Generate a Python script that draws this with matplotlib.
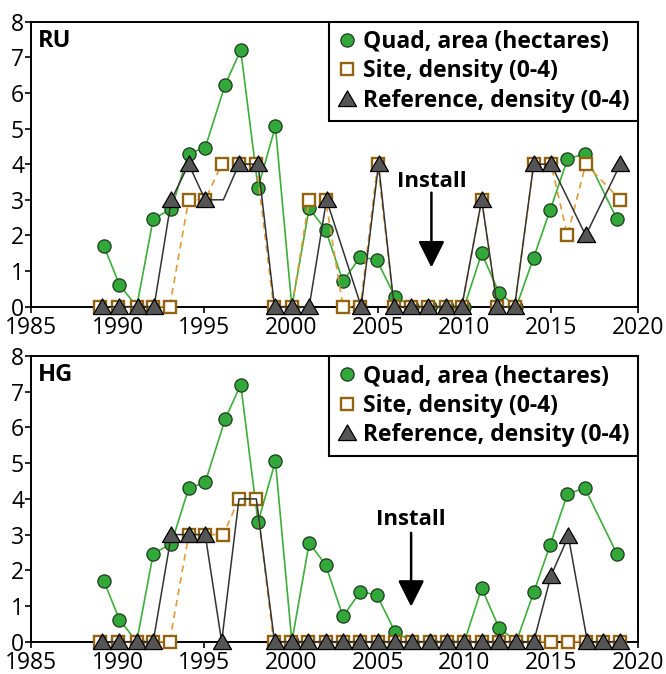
import matplotlib
matplotlib.use("Agg")
import matplotlib.pyplot as plt
import numpy as np

# ---------------- data ----------------
quad_years = [1989.2, 1990.1, 1991.1, 1992.05, 1993.1, 1994.1, 1995.05, 1996.2, 1997.1,
              1998.1, 1999.1, 2000.05, 2001.05, 2002.0, 2003.0, 2004.0, 2004.95, 2006.0,
              2007.0, 2008.0, 2009.0, 2010.0, 2011.0, 2012.0, 2013.0, 2014.0, 2014.95,
              2015.95, 2016.95, 2018.8]
quad_area = [1.71, 0.62, 0.0, 2.46, 2.75, 4.30, 4.46, 6.23, 7.20, 3.34, 5.06, 0.0, 2.77,
             2.15, 0.71, 1.40, 1.31, 0.28, 0.0, 0.0, 0.0, 0.0, 1.50, 0.39, 0.0, 1.38,
             2.71, 4.14, 4.30, 2.46]

# RU
ru_site_years = [1989.0, 1990.0, 1991.1, 1992.05, 1993.0, 1994.1, 1995.05, 1996.0, 1997.0,
                 1998.0, 1999.0, 2000.05, 2001.05, 2002.0, 2003.0, 2004.0, 2005.0, 2005.95,
                 2006.9, 2007.9, 2008.95, 2009.85, 2011.0, 2011.9, 2012.9, 2014.0, 2015.0,
                 2015.95, 2017.0, 2019.0]
ru_site = [0, 0, 0, 0, 0, 3, 3, 4, 4, 4, 0, 0, 3, 3, 0, 0, 4, 0, 0, 0, 0, 0, 3, 0, 0,
           4, 4, 2, 4, 3]
ru_ref_years = [1989.1, 1990.05, 1991.15, 1992.1, 1993.1, 1994.1, 1995.05, 1996.1, 1997.0,
                1998.1, 1999.05, 2000.05, 2001.05, 2002.05, 2004.05, 2005.05, 2005.95,
                2006.9, 2007.9, 2008.95, 2009.85, 2011.0, 2011.9, 2012.9, 2014.0, 2015.0,
                2017.0, 2019.0]
ru_ref = [0, 0, 0, 0, 3, 4, 3, 3, 4, 4, 0, 0, 0, 3, 0, 4, 0, 0, 0, 0, 0, 3, 0, 0, 4, 4,
          2, 4]
ru_ref_hidden = [7]          # points drawn on the line without a marker

# HG
hg_site_years = [1989.0, 1990.0, 1991.1, 1992.05, 1993.0, 1994.1, 1995.05, 1996.1, 1997.0,
                 1998.0, 1999.0, 2000.0, 2001.0, 2002.0, 2003.0, 2004.0, 2005.0, 2006.0,
                 2007.0, 2008.0, 2009.0, 2010.0, 2011.0, 2012.0, 2013.0, 2014.0, 2015.0,
                 2016.0, 2017.0, 2018.0, 2019.0]
hg_site = [0, 0, 0, 0, 0, 3, 3, 3, 4, 4, 0, 0, 0, 0, 0, 0, 0, 0, 0, 0, 0, 0, 0, 0, 0, 0,
           0, 0, 0, 0, 0]
hg_ref_years = [1989.1, 1990.05, 1991.1, 1992.05, 1993.1, 1994.1, 1995.05, 1996.0, 1997.0,
                1998.0, 1999.05, 2000.05, 2001.0, 2002.0, 2003.0, 2004.0, 2005.0, 2006.0,
                2007.0, 2008.0, 2009.0, 2010.0, 2011.0, 2012.0, 2013.0, 2014.0, 2015.0,
                2016.0, 2017.1, 2018.0, 2019.0]
hg_ref = [0, 0, 0, 0, 3, 3, 3, 0, 4, 4, 0, 0, 0, 0, 0, 0, 0, 0, 0, 0, 0, 0, 0, 0, 0, 0,
          1.85, 2.95, 0, 0, 0]
hg_ref_hidden = [8, 9]

legend_labels = ["Quad, area (hectares)", "Site, density (0-4)", "Reference, density (0-4)"]
x_ticks = [1985, 1990, 1995, 2000, 2005, 2010, 2015, 2020]
y_ticks = [0, 1, 2, 3, 4, 5, 6, 7, 8]

panels = [
    dict(name="RU", site_years=ru_site_years, site=ru_site, ref_years=ru_ref_years,
         ref=ru_ref, hidden=ru_ref_hidden, install_x=2008.1, install_text_y=3.5,
         arrow_from=3.2, arrow_to=1.1),
    dict(name="HG", site_years=hg_site_years, site=hg_site, ref_years=hg_ref_years,
         ref=hg_ref, hidden=hg_ref_hidden, install_x=2006.93, install_text_y=3.42,
         arrow_from=3.05, arrow_to=0.98),
]

# ---------------- style ----------------
FONT = "Open Sans"
plt.rcParams["font.family"] = [FONT, "DejaVu Sans"]

green_line = "#3dae3a"
green_face = "#33a83a"
site_edge = "#93640f"
site_line = "#e39a35"
ref_face = "#555555"
tri = [(-1.0, -0.78), (1.0, -0.78), (0.0, 0.95), (-1.0, -0.78)]

fig = plt.figure(figsize=(6.66, 6.74), dpi=100)
positions = [[0.0465, 0.545, 0.911, 0.4228], [0.0465, 0.0479, 0.911, 0.4239]]

for p, pos in zip(panels, positions):
    ax = fig.add_axes(pos)
    ax.plot(quad_years, quad_area, color=green_line, lw=1.2, marker="o", ms=9.5,
            mfc=green_face, mec="#1c3a1c", mew=0.9, clip_on=False, zorder=3,
            label=legend_labels[0])
    ax.plot(p["site_years"], p["site"], color=site_line, lw=1.2, ls=(0, (4, 3)),
            marker="s", ms=9, mfc="white", mec=site_edge, mew=1.7, clip_on=False,
            zorder=4, label=legend_labels[1])
    n = len(p["ref"])
    show = [i not in p["hidden"] for i in range(n)]
    ax.plot(p["ref_years"], p["ref"], color="#333333", lw=1.1, marker=tri, ms=13,
            mfc=ref_face, mec="black", mew=0.9, markevery=show, clip_on=False,
            zorder=5, label=legend_labels[2])

    ax.set_xlim(1985, 2020)
    ax.set_ylim(0, 8)
    ax.set_xticks(x_ticks)
    ax.set_yticks(y_ticks)
    for s in ax.spines.values():
        s.set_linewidth(1.4)
        s.set_color("black")
    ax.tick_params(direction="out", length=4, width=1.2, labelsize=16.5, colors="black")
    ax.tick_params(axis="y", pad=1)
    ax.tick_params(axis="x", pad=3)

    ax.text(0.012, 0.975, p["name"], transform=ax.transAxes, ha="left", va="top",
            fontsize=17, fontweight="bold")

    ax.text(p["install_x"], p["install_text_y"], "Install", ha="center", va="center",
            fontsize=16, fontweight="bold")
    ax.annotate("", xy=(p["install_x"], p["arrow_to"]),
                xytext=(p["install_x"], p["arrow_from"]),
                arrowprops=dict(arrowstyle="-|>,head_length=0.9,head_width=0.45",
                                lw=1.8, color="black", shrinkA=0, shrinkB=0,
                                mutation_scale=18))

    leg = ax.legend(loc="upper right", borderaxespad=0, frameon=True, fancybox=False,
                    edgecolor="black", framealpha=1, handlelength=0.9,
                    handletextpad=0.25, borderpad=0.35, labelspacing=0.25,
                    prop=dict(family=[FONT, "DejaVu Sans"], weight="bold", size=16.5))
    leg.get_frame().set_linewidth(1.5)
    for h in leg.legend_handles:
        h.set_linestyle("none")

fig.savefig("out.png", dpi=100)
